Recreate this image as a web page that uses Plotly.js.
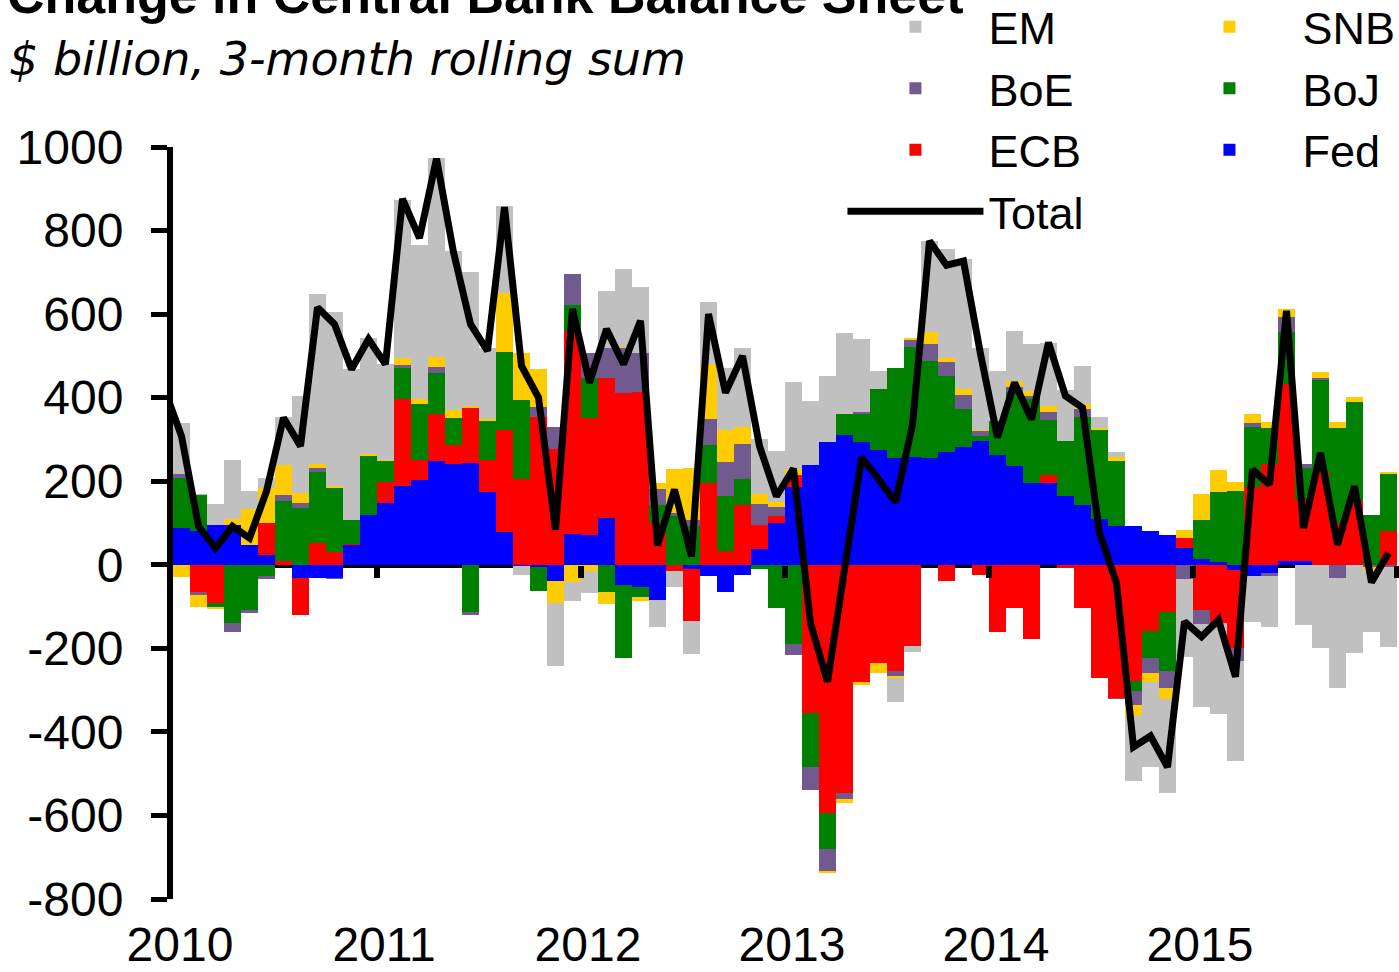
<!DOCTYPE html>
<html><head><meta charset="utf-8">
<script src="https://cdn.plot.ly/plotly-3.0.1.min.js"></script>
<style>html,body{margin:0;padding:0;background:#fff}#chart{width:1399px;height:972px}</style>
</head><body><div id="chart"></div>
<script>
// ---- categories ----
const years = [2010, 2011, 2012, 2013, 2014, 2015];
const monthNums = ['01','02','03','04','05','06','07','08','09','10','11','12'];
const months = [];
years.forEach(y => monthNums.forEach(m => months.push(y + '-' + m)));
const totalMonths = ['2009-12'].concat(months);
const yearTickLabels = ['2010','2011','2012','2013','2014','2015'];

// ---- series values ($ billion, 3-month rolling sum), Jan 2010 .. Dec 2015 ----
const fed = [88,80,96,96,48,24,0,-32,-32,-32,48,120,
             148,188,202,248,242,244,174,78,-4,-6,-38,74,
             72,112,-48,-52,-84,0,-10,-28,-66,-24,38,100,
             185,238,295,310,295,275,255,257,255,270,283,297,
             262,236,196,196,164,144,110,92,92,82,72,40,
             14,6,-12,-26,-20,10,8,0,0,0,0,0];
const ecb = [0,-64,-92,0,0,76,10,-88,52,30,2,0,
             50,210,48,114,44,132,76,244,206,354,278,486,
             280,334,412,414,100,-16,-124,196,34,142,58,17,
             30,-355,-595,-547,-280,-235,-255,-195,0,-40,0,-25,
             -160,-104,-178,18,-8,-104,-270,-320,-278,-158,-112,24,
             -108,-140,-188,186,242,422,148,224,100,152,0,82];
const boj = [120,88,-10,-140,-108,-26,142,136,170,154,58,140,
             50,72,134,98,66,-112,94,188,188,-56,0,62,
             94,-66,-174,-26,44,116,94,90,130,64,-10,-104,
             -190,-130,-85,50,67,145,217,265,233,183,90,11,
             83,178,202,132,132,210,212,156,-24,-66,-142,0,
             94,168,176,144,86,124,76,218,228,238,118,136];
const boe = [10,-8,0,-20,-8,-8,14,12,10,-2,0,0,
             0,8,0,14,0,-8,0,0,0,24,52,74,
             62,72,106,94,38,8,14,64,82,84,50,22,
             -25,-55,-53,-13,3,0,-12,15,40,32,34,12,
             0,12,7,19,0,18,0,-2,-34,-34,-41,-34,
             -34,0,-30,10,-8,36,10,6,-32,0,-6,-6];
const snb = [-30,-28,-3,14,86,84,74,24,10,4,0,4,
             4,16,14,24,18,4,4,140,112,90,-54,-42,
             -16,-28,4,-8,14,106,124,130,76,40,24,11,
             15,2,-5,-10,-8,-25,-5,5,30,10,13,3,
             0,13,12,14,0,12,6,10,-26,-23,-26,20,
             62,52,22,20,14,20,0,14,14,12,-10,3];
const em  = [122,2,50,140,42,24,113,232,406,418,360,280,
             228,380,368,476,380,320,170,208,-20,0,-150,-44,
             -52,138,186,156,-64,-36,-80,148,148,188,132,122,
             208,152,157,195,175,45,-56,-13,217,260,313,195,
             120,120,111,153,122,92,26,12,-155,-202,-226,-186,
             -199,-216,-240,-112,-120,0,-144,-198,-262,-212,-144,-190];
// Total line, Dec 2009 .. Dec 2015
const total = [420,
             308,92,40,92,64,176,352,284,616,576,468,540,
             480,876,782,972,748,576,512,856,476,400,84,612,
             436,564,480,584,46,180,20,600,412,500,284,164,
             230,-140,-280,-11,257,205,150,335,775,717,727,505,
             305,436,348,532,404,376,76,-44,-436,-410,-484,-136,
             -172,-132,-268,228,192,608,88,268,48,188,-42,28];

const yRange = [-800, 1000];
const yTicks = [-800,-600,-400,-200,0,200,400,600,800,1000];
const yTickLabels = ['-800','-600','-400','-200','0','200','400','600','800','1000'];

// month label -> position on a numeric year axis (centre of month)
function monthPos(label) {
  const p = label.split('-').map(Number);
  return p[0] + (p[1] - 0.5) / 12;
}
const xBars = months.map(monthPos);
const xTotal = totalMonths.map(monthPos);

const seriesDefs = [
  {name: 'Fed', values: fed, color: '#0000FF', rank: 6},
  {name: 'ECB', values: ecb, color: '#FF0000', rank: 5},
  {name: 'BoJ', values: boj, color: '#008000', rank: 4},
  {name: 'BoE', values: boe, color: '#705A8E', rank: 3},
  {name: 'SNB', values: snb, color: '#FFCC00', rank: 2},
  {name: 'EM',  values: em,  color: '#C0C0C0', rank: 1}
];

const traces = seriesDefs.map(s => ({
  type: 'bar', name: s.name, x: xBars, y: s.values,
  width: 1 / 12, marker: {color: s.color, line: {width: 0}},
  legendrank: s.rank, hoverinfo: 'name+y'
}));
traces.push({
  type: 'scatter', mode: 'lines', name: 'Total', x: xTotal, y: total,
  xaxis: 'x2', yaxis: 'y',
  line: {color: '#000000', width: 7}, legendrank: 7
});

const zeroFrac = (0 - yRange[0]) / (yRange[1] - yRange[0]);

const layout = {
  width: 1399, height: 972,
  margin: {l: 173, r: 2, t: 147, b: 73, autoexpand: false},
  paper_bgcolor: '#ffffff', plot_bgcolor: '#ffffff',
  barmode: 'relative', bargap: 0,
  font: {family: 'Liberation Sans, Arial, sans-serif', size: 48, color: '#000000'},
  showlegend: true,
  title: {
    text: '<b>Change in Central Bank Balance Sheet</b>',
    font: {family: 'Liberation Sans, Arial, sans-serif', size: 52, color: '#000000'},
    xref: 'container', x: 0.005, xanchor: 'left',
    yref: 'container', y: 0.9866, yanchor: 'bottom'
  },
  xaxis: {
    range: [2010, 2016], tickvals: years, ticktext: yearTickLabels,
    ticks: '', showline: false, showgrid: false, zeroline: false,
    ticklabelshift: 7, ticklabelstandoff: 13, fixedrange: true
  },
  xaxis2: {
    overlaying: 'x', anchor: 'free', position: zeroFrac, side: 'bottom',
    range: [2010, 2016], tickvals: [2011, 2012, 2013, 2014, 2015, 2016],
    ticks: 'outside', ticklen: 12, tickwidth: 6, tickcolor: '#000000',
    showticklabels: false, showline: false, showgrid: false, zeroline: false,
    layer: 'above traces', fixedrange: true
  },
  yaxis: {
    range: yRange, tickvals: yTicks, ticktext: yTickLabels,
    ticks: 'outside', ticklen: 16, tickwidth: 5, tickcolor: '#000000',
    showline: true, linewidth: 6, linecolor: '#000000',
    showgrid: false, zeroline: true, zerolinewidth: 6, zerolinecolor: '#000000',
    layer: 'above traces', ticklabelstandoff: 18, fixedrange: true
  },
  legend: {
    orientation: 'h', x: 1.06, xanchor: 'right', y: 0.867, yanchor: 'bottom',
    traceorder: 'normal', itemwidth: 136, entrywidth: 163, entrywidthmode: 'pixels',
    font: {size: 45, color: '#000000'}, bgcolor: 'rgba(0,0,0,0)', borderwidth: 0,
    itemclick: false, itemdoubleclick: false
  },
  annotations: [{
    text: '<i>$ billion, 3-month rolling sum</i>',
    xref: 'paper', yref: 'paper', x: -0.1356, xanchor: 'left',
    y: 1.117, yanchor: 'middle', showarrow: false,
    font: {family: 'DejaVu Sans, sans-serif', size: 46, color: '#000000'}
  }]
};

Plotly.newPlot('chart', traces, layout, {displayModeBar: false, staticPlot: true});
</script>
</body></html>
